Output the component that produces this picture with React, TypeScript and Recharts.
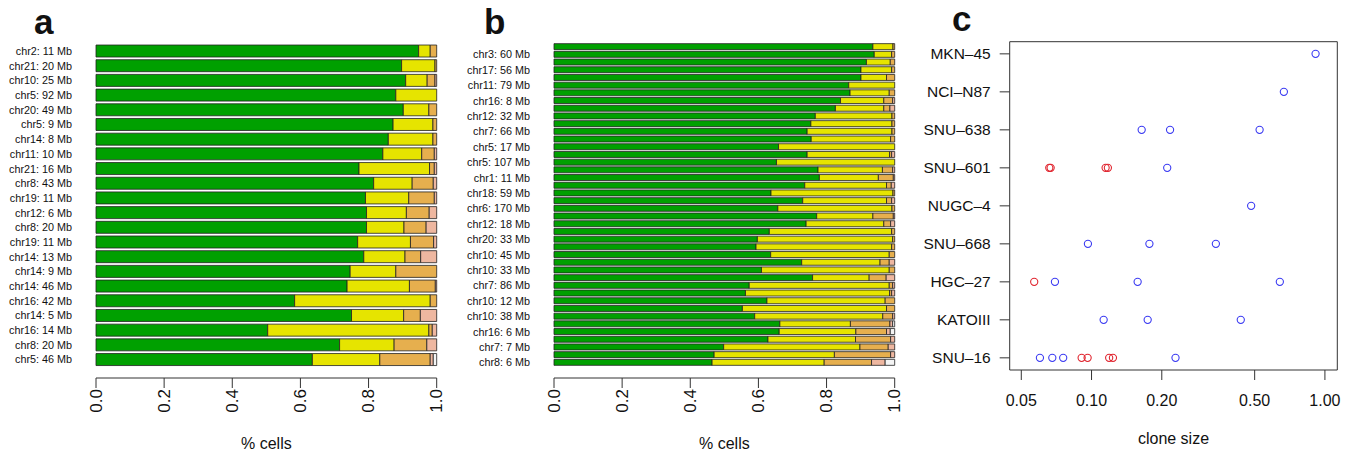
import { Bar, BarChart, ReferenceArea, Scatter, ScatterChart, XAxis, YAxis } from "recharts";

// panel a: 22 regions, fractions of cells per clone (top to bottom)
const A_LABELS = [
  "chr2: 11 Mb", "chr21: 20 Mb", "chr10: 25 Mb", "chr5: 92 Mb", "chr20: 49 Mb", "chr5: 9 Mb",
  "chr14: 8 Mb", "chr11: 10 Mb", "chr21: 16 Mb", "chr8: 43 Mb", "chr19: 11 Mb", "chr12: 6 Mb",
  "chr8: 20 Mb", "chr19: 11 Mb", "chr14: 13 Mb", "chr14: 9 Mb", "chr14: 46 Mb", "chr16: 42 Mb",
  "chr14: 5 Mb", "chr16: 14 Mb", "chr8: 20 Mb", "chr5: 46 Mb",
];
const A_GREEN = [0.947, 0.897, 0.909, 0.88, 0.902, 0.872, 0.858, 0.842, 0.772, 0.815, 0.791, 0.794, 0.794, 0.768, 0.786, 0.746, 0.737, 0.583, 0.75, 0.504, 0.715, 0.635];
const A_YELLOW = [0.034, 0.098, 0.063, 0.12, 0.075, 0.117, 0.131, 0.114, 0.207, 0.113, 0.127, 0.117, 0.11, 0.155, 0.121, 0.134, 0.183, 0.398, 0.153, 0.473, 0.16, 0.198];
const A_ORANGE = [0.019, 0.005, 0.023, 0, 0.023, 0.011, 0.011, 0.037, 0.014, 0.062, 0.075, 0.067, 0.065, 0.068, 0.046, 0.12, 0.076, 0.019, 0.049, 0.01, 0.096, 0.148];
const A_PINK = [0, 0, 0.005, 0, 0, 0, 0, 0.007, 0.007, 0.01, 0.007, 0.022, 0.031, 0.009, 0.047, 0, 0.004, 0, 0.048, 0.013, 0.029, 0.009];
const A_WHITE = [0, 0, 0, 0, 0, 0, 0, 0, 0, 0, 0, 0, 0, 0, 0, 0, 0, 0, 0, 0, 0, 0.01];

// panel b: 42 regions, only every other one is labelled
const B_LABELS = [
  "chr3: 60 Mb", "chr17: 56 Mb", "chr11: 79 Mb", "chr16: 8 Mb", "chr12: 32 Mb", "chr7: 66 Mb",
  "chr5: 17 Mb", "chr5: 107 Mb", "chr1: 11 Mb", "chr18: 59 Mb", "chr6: 170 Mb", "chr12: 18 Mb",
  "chr20: 33 Mb", "chr10: 45 Mb", "chr10: 33 Mb", "chr7: 86 Mb", "chr10: 12 Mb", "chr10: 38 Mb",
  "chr16: 6 Mb", "chr7: 7 Mb", "chr8: 6 Mb",
];
const B_GREEN = [
  0.936, 0.94, 0.917, 0.901, 0.901, 0.865, 0.869, 0.841, 0.826, 0.767, 0.754, 0.743, 0.755, 0.659,
  0.743, 0.653, 0.775, 0.779, 0.736, 0.637, 0.73, 0.657, 0.771, 0.74, 0.632, 0.597, 0.593, 0.636,
  0.727, 0.609, 0.759, 0.573, 0.562, 0.625, 0.553, 0.589, 0.663, 0.661, 0.628, 0.498, 0.47, 0.464,
];
const B_YELLOW = [
  0.059, 0.051, 0.07, 0.09, 0.075, 0.135, 0.115, 0.127, 0.142, 0.225, 0.238, 0.249, 0.233, 0.341,
  0.242, 0.347, 0.189, 0.173, 0.24, 0.358, 0.246, 0.335, 0.165, 0.228, 0.359, 0.397, 0.398, 0.348,
  0.23, 0.375, 0.166, 0.411, 0.423, 0.347, 0.423, 0.376, 0.207, 0.225, 0.257, 0.4, 0.353, 0.329,
];
const B_ORANGE = [
  0.005, 0.009, 0.013, 0.009, 0.024, 0, 0.016, 0.026, 0.018, 0.008, 0.008, 0.008, 0.012, 0,
  0.006, 0, 0.03, 0.044, 0.014, 0.005, 0.015, 0.008, 0.06, 0.02, 0.009, 0.006, 0.009, 0.016,
  0.027, 0.016, 0.05, 0.01, 0.006, 0.028, 0.024, 0.029, 0.116, 0.09, 0.103, 0.083, 0.165, 0.139,
];
const B_PINK = [
  0, 0, 0, 0, 0, 0, 0, 0.006, 0.014, 0, 0, 0, 0, 0,
  0.009, 0, 0.006, 0.004, 0.01, 0, 0.009, 0, 0.004, 0.012, 0, 0, 0, 0,
  0.016, 0, 0.025, 0.006, 0.009, 0, 0, 0.006, 0.008, 0.011, 0.012, 0.019, 0.012, 0.04,
];
const B_WHITE = [
  0, 0, 0, 0, 0, 0, 0, 0, 0, 0, 0, 0, 0, 0,
  0, 0, 0, 0, 0, 0, 0, 0, 0, 0, 0, 0, 0, 0,
  0, 0, 0, 0, 0, 0, 0, 0, 0.006, 0.013, 0, 0, 0, 0.028,
];

// panel c: clone sizes per cell line (top to bottom)
const C_LINES = ["MKN–45", "NCI–N87", "SNU–638", "SNU–601", "NUGC–4", "SNU–668", "HGC–27", "KATOIII", "SNU–16"];
const C_BLUE = [
  [0.912],
  [0.667],
  [0.164, 0.217, 0.525],
  [0.211],
  [0.483],
  [0.0965, 0.177, 0.341],
  [0.0697, 0.1576, 0.641],
  [0.1127, 0.174, 0.436],
  [0.0601, 0.0679, 0.0756, 0.229],
];
const C_RED = [
  [],
  [],
  [],
  [0.0659, 0.0668, 0.1149, 0.1175],
  [],
  [],
  [0.0568],
  [],
  [0.0907, 0.0962, 0.119, 0.1235],
];

const X_TICKS = [0, 0.2, 0.4, 0.6, 0.8, 1];
const C_TICKS = [0.05, 0.1, 0.2, 0.5, 1];

const SEGMENTS = [
  { key: "green", color: "#00a000" },
  { key: "yellow", color: "#e6e400" },
  { key: "orange", color: "#e6af4e" },
  { key: "pink", color: "#eeb7a0" },
  { key: "white", color: "#f4f4f4" },
];

const aRows = A_LABELS.map((label, i) => ({
  label,
  green: A_GREEN[i],
  yellow: A_YELLOW[i],
  orange: A_ORANGE[i],
  pink: A_PINK[i],
  white: A_WHITE[i],
}));

const bRows = B_GREEN.map((g, i) => ({
  label: i % 2 === 1 ? B_LABELS[(i - 1) / 2] : "",
  green: g,
  yellow: B_YELLOW[i],
  orange: B_ORANGE[i],
  pink: B_PINK[i],
  white: B_WHITE[i],
}));

const toPoints = (sets: number[][]) =>
  sets.flatMap((vals, i) => vals.map((x) => ({ x, y: C_LINES.length - i })));
const bluePts = toPoints(C_BLUE);
const redPts = toPoints(C_RED);

const FONT = "'Liberation Sans', Arial, Helvetica, sans-serif";
const AXIS = "#333";

function RotatedTick(props: any) {
  const { x, y, payload } = props;
  return (
    <text
      transform={`translate(${x},${y}) rotate(-90)`}
      textAnchor="end"
      dominantBaseline="central"
      fontSize={17}
      fill="#111"
    >
      {Number(payload.value).toFixed(1)}
    </text>
  );
}

function ring(color: string) {
  return (p: any) => <circle cx={p.cx} cy={p.cy} r={3.6} fill="none" stroke={color} strokeWidth={1.1} />;
}

function StackPanel({ rows, width, yWidth, top, right, padBottom }: any) {
  return (
    <BarChart
      width={width}
      height={460}
      data={rows}
      layout="vertical"
      margin={{ top, right, left: 0, bottom: 0 }}
      barCategoryGap="8.33%"
    >
      <XAxis
        type="number"
        domain={[0, 1]}
        ticks={X_TICKS}
        height={82}
        stroke={AXIS}
        tickSize={10}
        tickMargin={1}
        tick={<RotatedTick />}
        label={{ value: "% cells", position: "insideBottom", offset: 11, fontSize: 16, fill: "#111" }}
      />
      <YAxis
        type="category"
        dataKey="label"
        width={yWidth}
        interval={0}
        axisLine={false}
        tickLine={false}
        tickSize={0}
        tickMargin={24}
        padding={{ top: 0, bottom: padBottom }}
        tick={{ fontSize: 10.8, fill: "#111" }}
      />
      {SEGMENTS.map((s) => (
        <Bar
          key={s.key}
          dataKey={s.key}
          stackId="s"
          fill={s.color}
          stroke="#222"
          strokeWidth={0.8}
          isAnimationActive={false}
        />
      ))}
    </BarChart>
  );
}

const letter = (left: number, top: number): React.CSSProperties => ({
  position: "absolute",
  left,
  top,
  fontSize: 35,
  fontWeight: 700,
  lineHeight: "35px",
});

export default function App() {
  return (
    <div
      style={{
        position: "absolute",
        left: 0,
        top: 0,
        width: 1355,
        height: 460,
        background: "#fff",
        fontFamily: FONT,
        color: "#111",
        overflow: "hidden",
      }}
    >
      <div style={{ position: "absolute", left: 0, top: 0 }}>
        <StackPanel rows={aRows} width={450} yWidth={96} top={43.8} right={13.3} padBottom={11} />
      </div>
      <div style={{ position: "absolute", left: 450, top: 0 }}>
        <StackPanel rows={bRows} width={460} yWidth={104} top={43} right={15.3} padBottom={11.6} />
      </div>
      <div style={{ position: "absolute", left: 900, top: 0 }}>
        <ScatterChart width={455} height={460} margin={{ top: 41.7, right: 17.7, left: 0, bottom: 0 }}>
          <XAxis
            type="number"
            dataKey="x"
            scale="log"
            domain={[0.0446, 1.13]}
            allowDataOverflow
            ticks={C_TICKS}
            tickFormatter={(v: number) => v.toFixed(2)}
            height={90}
            axisLine={false}
            stroke={AXIS}
            tickSize={10}
            tickMargin={15}
            tick={{ fontSize: 16, fill: "#111" }}
            label={{ value: "clone size", position: "insideBottom", offset: 16, fontSize: 16, fill: "#111" }}
          />
          <YAxis
            type="number"
            dataKey="y"
            domain={[0.68, 9.32]}
            allowDataOverflow
            ticks={[1, 2, 3, 4, 5, 6, 7, 8, 9]}
            tickFormatter={(v: number) => C_LINES[C_LINES.length - v]}
            width={109.7}
            axisLine={false}
            stroke={AXIS}
            tickSize={10}
            tickMargin={9}
            tick={{ fontSize: 15.5, fill: "#111" }}
          />
          <ReferenceArea x1={0.0446} x2={1.13} y1={0.68} y2={9.32} fill="none" stroke={AXIS} strokeWidth={1} />
          <Scatter data={bluePts} shape={ring("#3a3af2")} isAnimationActive={false} />
          <Scatter data={redPts} shape={ring("#e0242e")} isAnimationActive={false} />
        </ScatterChart>
      </div>
      <div style={letter(34, 4)}>a</div>
      <div style={letter(484, 4)}>b</div>
      <div style={letter(952, 1)}>c</div>
    </div>
  );
}
